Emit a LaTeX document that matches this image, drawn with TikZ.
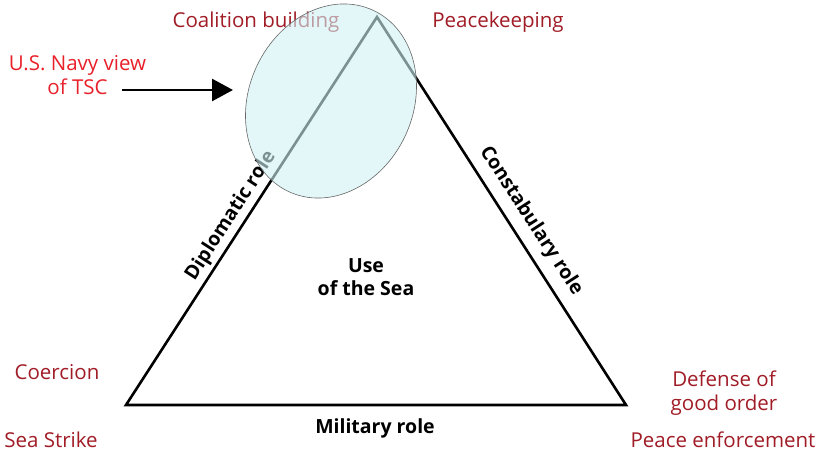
\documentclass[tikz,border=0pt]{standalone}
\usepackage{fontspec}
\setmainfont{Open Sans}
\usetikzlibrary{arrows.meta}
\definecolor{dred}{RGB}{160,28,38}
\definecolor{bred}{RGB}{232,32,42}
\definecolor{efill}{RGB}{208,242,245}
\begin{document}
\begin{tikzpicture}[x=1pt,y=1pt,
  lbl/.style={font=\fontsize{20.5}{24.5}\selectfont, text=dred, align=center, inner sep=0pt},
  rolelbl/.style={font=\fontsize{19.5}{23.5}\selectfont\bfseries, text=black, align=center, inner sep=0pt},
  side/.style={line width=2.6pt, black, line join=miter}]
\useasboundingbox (0,0) rectangle (820,452);
\coordinate (A) at (377,435);
\coordinate (L) at (126,47);
\coordinate (R) at (626,47);
\draw[side] (L) -- (A) -- (R) -- cycle;
\node[lbl] (cb) at (256,430) {Coalition building};
\node[lbl] (pk) at (498,430) {Peacekeeping};
\node[lbl, text=bred] (usn) at (77.5,377) {U.S. Navy view\\of TSC};
\node[lbl] (co) at (57,80) {Coercion};
\node[lbl] (ss) at (51,12.5) {Sea Strike};
\node[lbl] (dg) at (724,59) {Defense of\\good order};
\node[lbl] (pe) at (723,12.5) {Peace enforcement};
\node[rolelbl] (mr) at (375,24) {Military role};
\node[rolelbl] (use) at (366,175) {Use\\of the Sea};
\node[rolelbl, rotate=57.1] (dr) at (231,236) {Diplomatic role};
\node[rolelbl, rotate=-57.1] (cr) at (531,231) {Constabulary role};
\draw[draw=black!60, line width=0.6pt, fill=efill, fill opacity=0.6, rotate around={-25:(331,351)}] (331,351) ellipse [x radius=82, y radius=100];
\coordinate (eL) at (233,362);
\draw[line width=2.6pt, -{Triangle[length=21pt,width=22pt]}] (122,362) -- (eL);
\end{tikzpicture}
\end{document}
